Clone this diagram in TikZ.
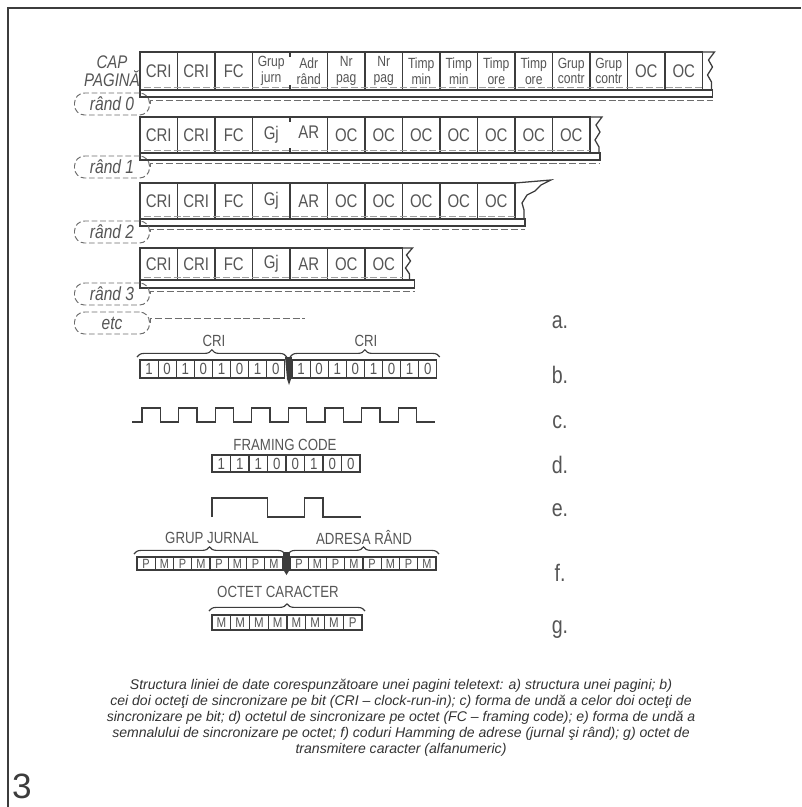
\documentclass[tikz,border=0pt]{standalone}
\usepackage{fontspec}
\usetikzlibrary{calc,decorations.pathreplacing}
\newfontfamily\drawfont[FakeStretch=0.82]{Liberation Sans}
\newfontfamily\capfont{Liberation Sans}
\definecolor{ink}{HTML}{3C3C3C}
\definecolor{pencil}{HTML}{555555}
\tikzset{
  cell/.style     = {inner sep=0pt, outer sep=0pt, minimum width=9.375mm,
                     text=pencil, font=\drawfont\fontsize{13}{13}\selectfont},
  cellt/.style    = {cell, align=center, font=\drawfont\fontsize{10.5}{11}\selectfont},
  rowline/.style  = {ink, line width=0.9pt},
  dashline/.style = {ink!75, line width=0.7pt, dash pattern=on 5pt off 2pt},
  rowlabel/.style = {draw=ink!75, line width=0.7pt, dash pattern=on 4pt off 2pt,
                     rounded corners=2.5mm, minimum width=18.75mm, minimum height=5.5mm,
                     inner sep=0pt, text=pencil,
                     font=\drawfont\itshape\fontsize{13.5}{13.5}\selectfont},
  bit/.style      = {draw=ink, line width=0.8pt, inner sep=0pt, outer sep=0pt,
                     text=pencil, font=\drawfont\fontsize{11.5}{11.5}\selectfont},
  brace/.style    = {decorate, decoration={brace, amplitude=1.8mm}, ink, line width=0.8pt},
  wave/.style     = {ink, line width=0.9pt},
  title/.style    = {text=pencil, inner sep=0pt, font=\drawfont\fontsize{11.5}{11.5}\selectfont},
  tag/.style      = {text=pencil, inner sep=0pt, font=\drawfont\fontsize{17}{17}\selectfont},
  caption/.style  = {text=ink!85!black, align=center, inner sep=0pt,
                     font=\capfont\itshape\fontsize{10}{11.4}\selectfont}
}

\begin{document}
\begin{tikzpicture}[x=0.25mm, y=-0.25mm]
  \useasboundingbox (0,0) rectangle (801,807);
  \draw[ink, line width=1.4pt] (8,807) -- (8,8) -- (801,8);

  % a) rows of the page
  \node[cellt, font=\drawfont\itshape\fontsize{13}{13}\selectfont] (cappag) at (112,71) {CAP\\PAGINĂ};
  \foreach \s/\t [count=\i] in {cell/CRI, cell/CRI, cell/FC, cellt/{Grup\\jurn}, cellt/{Adr\\rând},
      cellt/{Nr\\pag}, cellt/{Nr\\pag}, cellt/{Timp\\min}, cellt/{Timp\\min}, cellt/{Timp\\ore},
      cellt/{Timp\\ore}, cellt/{Grup\\contr}, cellt/{Grup\\contr}, cell/OC, cell/OC}
    \node[\s, minimum height=9.5mm] (r0c\i) at ({140+37.5*(\i-0.5)},71) {\t};
  \draw[rowline] (r0c1.north west) rectangle (r0c15.south east);
  \foreach \i in {1,2,3,5,6,7,8,9,10,11,12,13,14}
    \draw[rowline] (r0c\i.north east) -- (r0c\i.south east);
  \draw[rowline] (r0c4.north east) -- ++(0,5) (r0c4.south east) -- ++(0,-5);
  \draw[rowline] (r0c15.north east) -- ++(12,0) -- ++(-6,8) -- ++(4,7) -- ++(-5,8) -- ++(4,7) |- (r0c15.south east);
  \draw[rowline] (r0c1.south west) rectangle ($(r0c15.south east)+(10,7)$);
  \draw[dashline, ink!50] ($(r0c1.south west)+(4,-3)$) -- ($(r0c15.south east)+(0,-3)$);
  \node[rowlabel] (r0lbl) at (112,104) {rând 0};
  \draw[dashline] (r0lbl.east) |- ($(r0c15.south east)+(10,10)$);

  \foreach \t [count=\i] in {CRI,CRI,FC,\raisebox{1.3mm}{Gj},\raisebox{1.3mm}{AR},OC,OC,OC,OC,OC,OC,OC}
    \node[cell, minimum height=9mm] (r1c\i) at ({140+37.5*(\i-0.5)},135) {\t};
  \draw[rowline] (r1c1.north west) rectangle (r1c12.south east);
  \foreach \i in {1,2,3,5,6,7,8,9,10,11}
    \draw[rowline] (r1c\i.north east) -- (r1c\i.south east);
  \draw[rowline] (r1c4.north east) -- ++(0,5) (r1c4.south east) -- ++(0,-5);
  \draw[rowline] (r1c12.north east) -- ++(12,0) -- ++(-6,8) -- ++(4,7) -- ++(-5,8) -- ++(4,7) |- (r1c12.south east);
  \draw[rowline] (r1c1.south west) rectangle ($(r1c12.south east)+(10,7)$);
  \draw[dashline, ink!50] ($(r1c1.south west)+(4,-3)$) -- ($(r1c12.south east)+(0,-3)$);
  \node[rowlabel] (r1lbl) at (112,167) {rând 1};
  \draw[dashline] (r1lbl.east) |- ($(r1c12.south east)+(10,10)$);

  \foreach \t [count=\i] in {CRI,CRI,FC,Gj,AR,OC,OC,OC,OC,OC}
    \node[cell, minimum height=9mm] (r2c\i) at ({140+37.5*(\i-0.5)},201) {\t};
  \draw[rowline] (r2c1.north west) rectangle (r2c10.south east);
  \foreach \i in {1,...,9}
    \draw[rowline] (r2c\i.north east) -- (r2c\i.south east);
  \draw[rowline] (r2c10.north east) -- ++(36,-3) -- ++(-10,5) -- ++(-6,6) -- ++(-8,4) -- ++(-5,8) -- ++(2,7) |- (r2c10.south east);
  \draw[rowline] (r2c1.south west) rectangle ($(r2c10.south east)+(10,7)$);
  \draw[dashline, ink!50] ($(r2c1.south west)+(4,-3)$) -- ($(r2c10.south east)+(0,-3)$);
  \node[rowlabel] (r2lbl) at (112,232) {rând 2};
  \draw[dashline] (r2lbl.east) |- ($(r2c10.south east)+(10,10)$);

  \foreach \t [count=\i] in {CRI,CRI,FC,Gj,AR,OC,OC}
    \node[cell, minimum height=8mm] (r3c\i) at ({140+37.5*(\i-0.5)},264) {\t};
  \draw[rowline] (r3c1.north west) rectangle (r3c7.south east);
  \foreach \i in {1,...,6}
    \draw[rowline] (r3c\i.north east) -- (r3c\i.south east);
  \draw[rowline] (r3c7.north east) -- ++(10,0) -- ++(-6,7) -- ++(4,6) -- ++(-5,7) -- ++(4,6) |- (r3c7.south east);
  \draw[rowline] (r3c1.south west) rectangle ($(r3c7.south east)+(12,8)$);
  \draw[dashline, ink!50] ($(r3c1.south west)+(4,-3)$) -- ($(r3c7.south east)+(0,-3)$);
  \node[rowlabel] (r3lbl) at (112,294) {rând 3};
  \draw[dashline] (r3lbl.east) |- ($(r3c7.south east)+(12,11)$);

  \node[rowlabel] (etclbl) at (112,323) {etc};
  \coordinate (etcend) at (305,318);
  \draw[dashline] (etclbl.east) |- (etcend);

  % b) CRI bits
  \foreach \b [count=\i] in {1,0,1,0,1,0,1,0} {
    \node[bit, minimum width=4.525mm, minimum height=4.5mm] (ba\i) at ({140+18.1*(\i-0.5)},369) {\b};
    \node[bit, minimum width=4.525mm, minimum height=4.5mm] (bb\i) at ({292+18.1*(\i-0.5)},369) {\b};
  }
  \fill[ink] (285,357) -- (292,357) -- (291,379) -- (289,385) -- (287,379) -- cycle;
  \draw[brace] ($(ba1.north west)+(-3,-3)$) -- ($(ba8.north east)+(2,-3)$);
  \draw[brace] ($(bb1.north west)+(-2,-3)$) -- ($(bb8.north east)+(3,-3)$);
  \node[title] (cria) at (214,341) {CRI};
  \node[title] (crib) at (366,341) {CRI};

  % c) bit clock waveform
  \draw[wave] (132,422) -- (142,422)
    \foreach \k in {1,...,8} { -- ++(0,-14) -- ++(18.3,0) -- ++(0,14) -- ++(18.3,0) };

  % d) framing code
  \node[title] (fctitle) at (285,445) {FRAMING CODE};
  \foreach \b [count=\i] in {1,1,1,0,0,1,0,0}
    \node[bit, minimum width=4.625mm, minimum height=4.25mm] (fc\i) at ({212+18.5*(\i-0.5)},463.5) {\b};

  % e) framing code waveform
  \draw[wave] (212,517) -- (212,498) -- (267.5,498) -- (267.5,517) -- (304.5,517)
    -- (304.5,498) -- (323,498) -- (323,517) -- (361,517);

  % f) Hamming address codes
  \foreach \b [count=\i] in {P,M,P,M,P,M,P,M} {
    \node[bit, minimum width=4.5625mm, minimum height=3.25mm, font=\drawfont\fontsize{9.5}{9.5}\selectfont] (ha\i) at ({137+18.25*(\i-0.5)},563.5) {\b};
    \node[bit, minimum width=4.5625mm, minimum height=3.25mm, font=\drawfont\fontsize{9.5}{9.5}\selectfont] (hb\i) at ({290+18.25*(\i-0.5)},563.5) {\b};
  }
  \fill[ink] (283,552) -- (290,552) -- (289.5,570) -- (286.5,575) -- (283.5,570) -- cycle;
  \draw[brace] ($(ha1.north west)+(-3,-3)$) -- ($(ha8.north east)+(2,-3)$);
  \draw[brace] ($(hb1.north west)+(-2,-3)$) -- ($(hb8.north east)+(3,-3)$);
  \node[title] (grupj) at (212,538) {GRUP JURNAL};
  \node[title] (adrr) at (364,538) {ADRESA RÂND};

  % g) character byte
  \foreach \b [count=\i] in {M,M,M,M,M,M,M,P}
    \node[bit, minimum width=4.6875mm, minimum height=3.75mm, font=\drawfont\fontsize{10}{10}\selectfont] (oc\i) at ({212+18.75*(\i-0.5)},622.5) {\b};
  \draw[brace] ($(oc1.north west)+(-3,-4)$) -- ($(oc8.north east)+(3,-4)$);
  \node[title] (octc) at (278,592) {OCTET CARACTER};

  % part letters
  \foreach \l/\y in {a/322, b/375, c/422, d/465, e/510, f/573, g/630}
    \node[tag] (tag\l) at (560,\y) {\l.};

  \node[caption] (cap) at (401,718) {Structura liniei de date corespunzătoare unei pagini teletext: a) structura unei pagini; b)\\
    cei doi octeţi de sincronizare pe bit (CRI – clock-run-in); c) forma de undă a celor doi octeţi de\\
    sincronizare pe bit; d) octetul de sincronizare pe octet (FC – framing code); e) forma de undă a\\
    semnalului de sincronizare pe octet; f) coduri Hamming de adrese (jurnal şi rând); g) octet de\\
    transmitere caracter (alfanumeric)};
  \node[text=ink, inner sep=0pt, font=\capfont\fontsize{25}{25}\selectfont] (fignum) at (22,786) {3};
\end{tikzpicture}
\end{document}
